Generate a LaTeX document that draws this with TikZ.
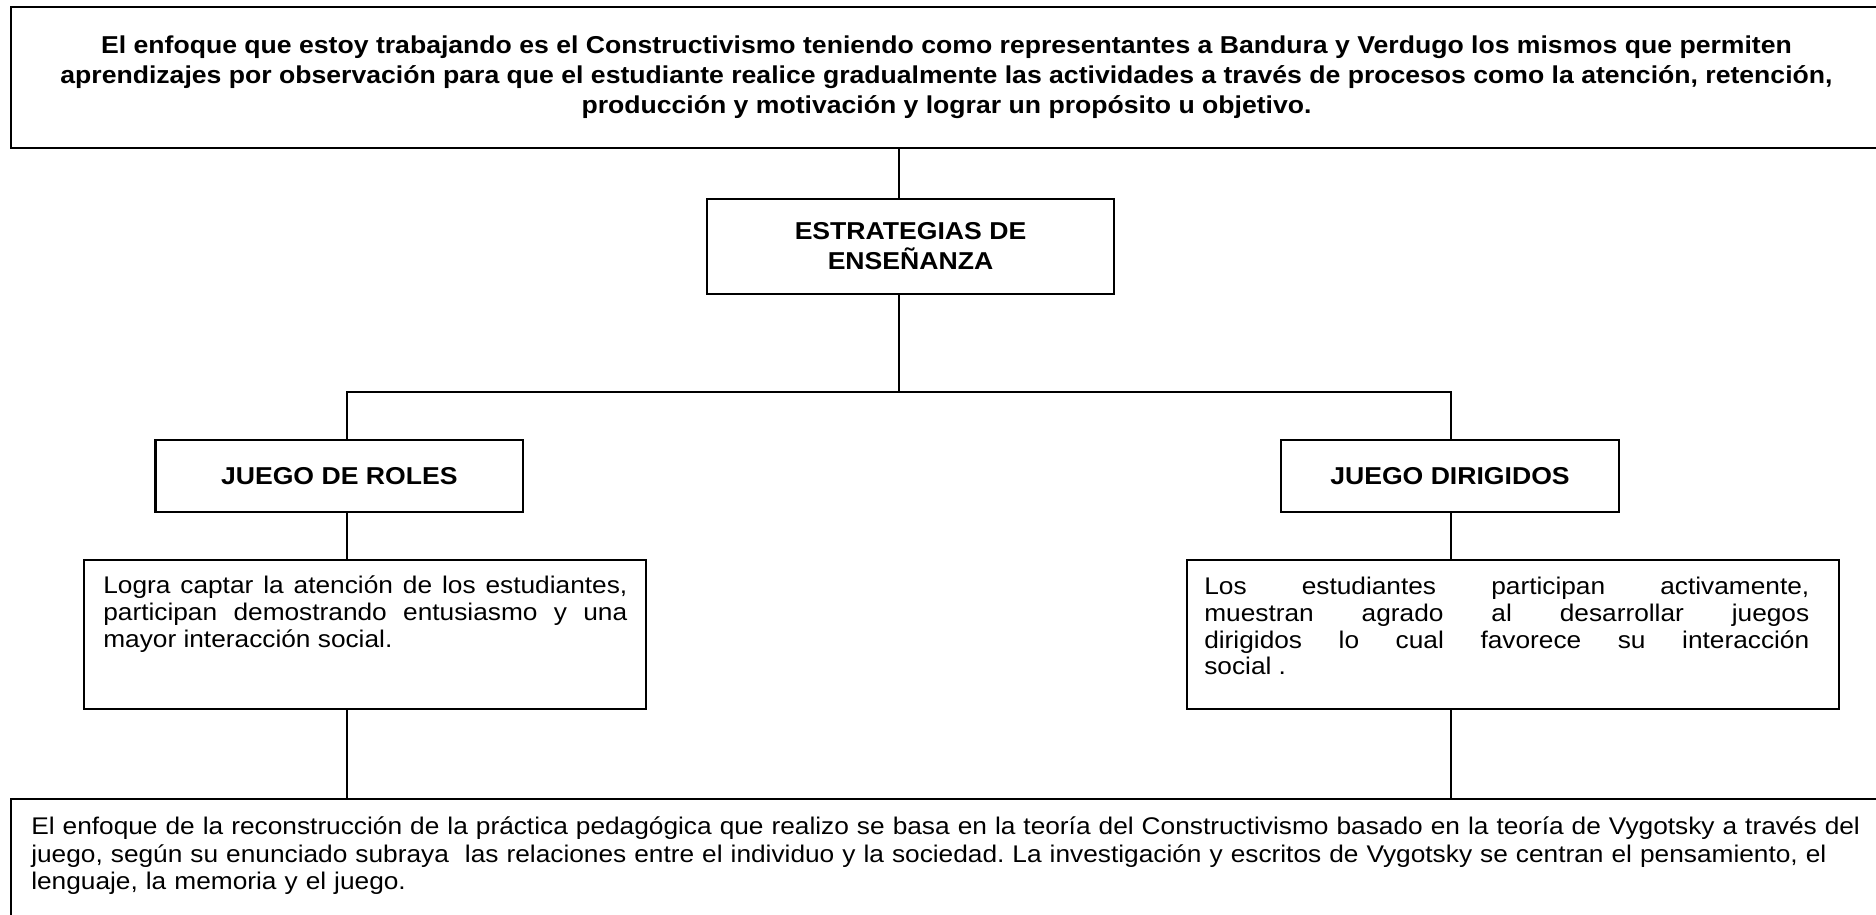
\documentclass[tikz,border=0pt]{standalone}
\usepackage{fontspec}
\setmainfont{Liberation Sans}[FakeStretch=1.09]
\frenchspacing
\usetikzlibrary{positioning,calc}
\tikzset{
  mapa caja/.style={rectangle, draw, line width=1.1pt, inner sep=0pt},
  mapa titulo/.style={font=\bfseries\fontsize{12.2}{15}\selectfont, align=center},
  mapa texto/.style={font=\fontsize{12.05}{13.3}\selectfont, inner sep=0pt},
  mapa linea/.style={line width=0.8pt}
}

\begin{document}
\begin{tikzpicture}[x=0.5pt, y=-0.5pt]
    \useasboundingbox (0,0) rectangle (1876,915);

    % Enfoque general
    \node [mapa caja, mapa titulo, minimum width=935.5pt, minimum height=70.5pt] (enfoque) at (946.5,77.5)
        {El enfoque que estoy trabajando es el Constructivismo teniendo como representantes a Bandura y Verdugo los mismos que permiten\\
         aprendizajes por observación para que el estudiante realice gradualmente las actividades a través de procesos como la atención, retención,\\
         producción y motivación y lograr un propósito u objetivo.};

    % Estrategias
    \node [mapa caja, mapa titulo, minimum width=203.5pt, minimum height=47.5pt] (estrategias) at (910.5,246.5) {ESTRATEGIAS DE\\ ENSEÑANZA};
    \node [mapa caja, mapa titulo, minimum width=183.75pt, minimum height=36pt] (roles) at (339.3,476) {JUEGO DE ROLES};
    \node [mapa caja, mapa titulo, minimum width=169pt, minimum height=36pt] (dirigidos) at (1450,476) {JUEGO DIRIGIDOS};

    % Resultados
    \node [mapa caja, minimum width=281pt, minimum height=74.5pt] (logra) at (365,634.5) {};
    \node [mapa texto, text width=262pt, align=justify, anchor=base west] (logratxt) at ($(logra.north west)+(20,35)$)
        {Logra captar la atención de los estudiantes,\linebreak participan demostrando entusiasmo y una\linebreak mayor interacción social.};
    \node [mapa caja, minimum width=326pt, minimum height=74.5pt] (activos) at (1513,634.5) {};
    \node [mapa texto, text width=302.5pt, align=justify, anchor=base west] (activostxt) at ($(activos.north west)+(18,36)$)
        {Los estudiantes participan activamente,\linebreak muestran agrado al desarrollar juegos\linebreak dirigidos lo cual favorece su interacción\linebreak social .};

    % Teoria de Vygotsky
    \node [mapa caja, minimum width=935.5pt, minimum height=68pt] (vygotsky) at (946.5,867) {};
    \node [mapa texto, font=\fontsize{12.05}{13.7}\selectfont, text width=930pt, align=left, anchor=base west] (vygotskytxt) at ($(vygotsky.north west)+(21,37)$)
        {El enfoque de la reconstrucción de la práctica pedagógica que realizo se basa en la teoría del Constructivismo basado en la teoría de Vygotsky a través del\\
         juego, según su enunciado subraya \ las relaciones entre el individuo y la sociedad. La investigación y escritos de Vygotsky se centran el pensamiento, el\\
         lenguaje, la memoria y el juego.};

    % Conectores
    \coordinate (cruce) at (899,392);
    \coordinate (izq) at (347,392);
    \coordinate (der) at (1451,392);
    \draw [mapa linea] (enfoque.south -| cruce) -- (estrategias.north -| cruce);
    \draw [mapa linea] (estrategias.south -| cruce) -- (cruce);
    \draw [mapa linea] (roles.north -| izq) -- (izq) -- (der) -- (dirigidos.north -| der);
    \draw [mapa linea] (roles.south -| izq) -- (logra.north -| izq);
    \draw [mapa linea] (dirigidos.south -| der) -- (activos.north -| der);
    \draw [mapa linea] (logra.south -| izq) -- (vygotsky.north -| izq);
    \draw [mapa linea] (activos.south -| der) -- (vygotsky.north -| der);
\end{tikzpicture}
\end{document}
